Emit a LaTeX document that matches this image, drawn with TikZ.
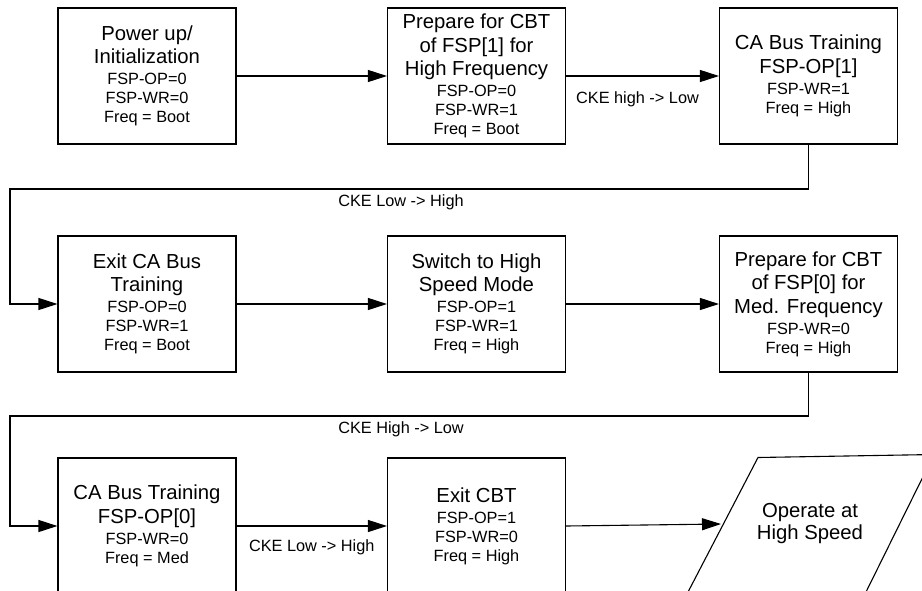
\documentclass[tikz,border=0pt]{standalone}
\usepackage{fontspec}
\setmainfont{Liberation Sans}
\usetikzlibrary{arrows.meta}

\setlength{\parindent}{0pt}
\newcommand*{\hdsize}{\fontsize{20.3}{23.6}\selectfont\spaceskip=.278em plus .1em\relax}
\newcommand*{\prsize}{\fontsize{16.3}{19}\selectfont\spaceskip=.278em plus .1em\relax}
\newcommand*{\boxhead}[1]{{\hdsize #1\par}}
\newcommand*{\boxparm}[1]{{\vskip2pt\prsize #1\par}}

\newcommand*{\colA}{147}
\newcommand*{\colB}{476.5}
\newcommand*{\colC}{808.5}
\newcommand*{\rowA}{76}
\newcommand*{\rowB}{304}
\newcommand*{\rowC}{526}

\begin{document}
\begin{tikzpicture}
[
	x=1pt,y=-1pt,
	state/.style={draw,line width=1.1pt,inner sep=0pt,minimum width=178pt,minimum height=136pt,text width=174pt,align=flush center},
	arr/.style={line width=1.1pt,-{Triangle[length=19pt,width=12pt]}},
	lbl/.style={inner sep=0pt,font=\prsize}
]

	\useasboundingbox (0,0) rectangle (922,590);
	\clip (0,0) rectangle (922,590);

	% first row
	\node[state] (pwr) at (\colA,\rowA) {\boxhead{Power up/\\Initialization}\boxparm{FSP-OP=0\\FSP-WR=0\\Freq = Boot}};
	\node[state] (prepa) at (\colB,\rowA) {\boxhead{Prepare for CBT\\of FSP[1] for\\High Frequency}\boxparm{FSP-OP=0\\FSP-WR=1\\Freq = Boot}};
	\node[state] (cbta) at (\colC,\rowA) {\boxhead{CA Bus Training\\FSP-OP[1]}\boxparm{FSP-WR=1\\Freq = High}};

	% second row
	\node[state] (exita) at (\colA,\rowB) {\boxhead{Exit CA Bus\\Training}\boxparm{FSP-OP=0\\FSP-WR=1\\Freq = Boot}};
	\node[state] (hsm) at (\colB,\rowB) {\boxhead{Switch to High\\Speed Mode}\boxparm{FSP-OP=1\\FSP-WR=1\\Freq = High}};
	\node[state] (prepb) at (\colC,\rowB) {\boxhead{Prepare for CBT\\of FSP[0] for\\Med. Frequency}\boxparm{FSP-WR=0\\Freq = High}};

	% third row
	\node[state] (cbtb) at (\colA,\rowC) {\boxhead{CA Bus Training\\FSP-OP[0]}\boxparm{FSP-WR=0\\Freq = Med}};
	\node[state] (exitb) at (\colB,\rowC) {\boxhead{Exit CBT}\boxparm{FSP-OP=1\\FSP-WR=0\\Freq = High}};

	% output shape
	\draw[line width=1.1pt] (758,457.5) -- (934,454.5) -- (865.5,593) -- (687.5,593) -- cycle;
	\node[inner sep=0pt,align=center,font=\fontsize{20.3}{22}\selectfont] (run) at (810,524) {Operate at\\High Speed};
	\coordinate (runin) at (721,524);

	% return lines
	\coordinate (reta) at (10,189);
	\coordinate (retb) at (10,416);

	\draw[arr] (pwr) -- (prepa);
	\draw[arr] (prepa) -- (cbta) node[lbl,midway,below=15pt,xshift=-5pt] (ckea) {CKE high -> Low};
	\draw[arr] (cbta.south) |- (reta) |- (exita.west);
	\node[lbl,anchor=north] (ckeb) at (401,194) {CKE Low -> High};

	\draw[arr] (exita) -- (hsm);
	\draw[arr] (hsm) -- (prepb);
	\draw[arr] (prepb.south) |- (retb) |- (cbtb.west);
	\node[lbl,anchor=north] (ckec) at (401,421) {CKE High -> Low};

	\draw[arr] (cbtb) -- (exitb) node[lbl,midway,below=13pt] (cked) {CKE Low -> High};
	\draw[arr] (exitb.east) -- (runin);

\end{tikzpicture}
\end{document}
